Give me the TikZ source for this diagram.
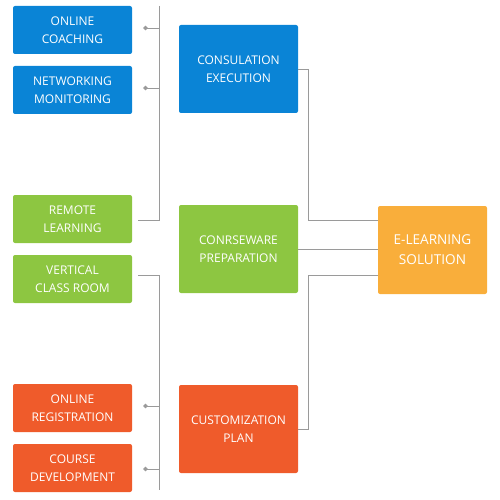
\documentclass[tikz,border=0pt]{standalone}
\usepackage{fontspec}
\setmainfont{Open Sans}
\usepackage{xcolor}
\usetikzlibrary{arrows.meta}

\definecolor{boxblue}{HTML}{0A84D6}
\definecolor{boxgreen}{HTML}{8DC641}
\definecolor{boxorange}{HTML}{EF5B2B}
\definecolor{boxyellow}{HTML}{F9AE3B}
\definecolor{linegray}{HTML}{9A9A9A}

\begin{document}
\begin{tikzpicture}[x=1pt,y=-1pt,
	box/.style={rectangle,rounded corners=2pt,text=white,align=center,inner sep=0pt,
		font=\fontsize{12}{18}\selectfont},
	leafbox/.style={box,minimum width=119pt,minimum height=48pt},
	mainbox/.style={box,minimum width=119pt,minimum height=88pt},
	bus/.style={draw=linegray,line width=0.9pt},
	busdot/.style={bus,{Circle[length=4.5pt,fill=linegray]}-}]

\useasboundingbox (0,0) rectangle (500,500);

\node (online_coaching)		at (72.5,30)	[leafbox,fill=boxblue] {ONLINE\\COACHING};
\node (networking_monitoring)	at (72.5,90)	[leafbox,fill=boxblue] {NETWORKING\\MONITORING};
\node (remote_learning)		at (72.5,219)	[leafbox,fill=boxgreen] {REMOTE\\LEARNING};
\node (vertical_class_room)	at (72.5,279)	[leafbox,fill=boxgreen] {VERTICAL\\CLASS ROOM};
\node (online_registration)	at (72.5,408)	[leafbox,fill=boxorange] {ONLINE\\REGISTRATION};
\node (course_development)	at (72.5,468)	[leafbox,fill=boxorange] {COURSE\\DEVELOPMENT};

\node (consulation_execution)	at (238.5,69)	[mainbox,fill=boxblue] {CONSULATION\\EXECUTION};
\node (conrseware_preparation)	at (238.5,249)	[mainbox,fill=boxgreen] {CONRSEWARE\\PREPARATION};
\node (customization_plan)	at (238.5,429)	[mainbox,fill=boxorange] {CUSTOMIZATION\\PLAN};

\node (elearning_solution)	at (432.5,250)	[mainbox,minimum width=109pt,fill=boxyellow,
	font=\fontsize{13.6}{20}\selectfont] {E-LEARNING\\SOLUTION};

\coordinate (top_bus_north)	at (159.5,6);
\coordinate (bottom_bus_south)	at (159.5,490);

% upper bus
\draw [bus] (top_bus_north) |- ([xshift=6pt,yshift=-1pt]remote_learning.east);
\draw [busdot] ([xshift=11pt,yshift=2pt]online_coaching.east) -- ([yshift=2pt]online_coaching.east -| top_bus_north);
\draw [busdot] ([xshift=11pt,yshift=2pt]networking_monitoring.east) -- ([yshift=2pt]networking_monitoring.east -| top_bus_north);

% lower bus
\draw [bus] ([xshift=6pt,yshift=4pt]vertical_class_room.east) -| (bottom_bus_south);
\draw [busdot] ([xshift=11pt,yshift=2pt]online_registration.east) -- ([yshift=2pt]online_registration.east -| bottom_bus_south);
\draw [busdot] ([xshift=11pt,yshift=-1pt]course_development.east) -- ([yshift=-1pt]course_development.east -| bottom_bus_south);

% to the solution
\draw [bus] (consulation_execution.east) -- ++(10,0) |- ([yshift=30pt]elearning_solution.west);
\draw [bus] (conrseware_preparation.east) -- (conrseware_preparation.east -| elearning_solution.west);
\draw [bus] (customization_plan.east) -- ++(10,0) |- ([yshift=-25pt]elearning_solution.west);

\end{tikzpicture}
\end{document}
